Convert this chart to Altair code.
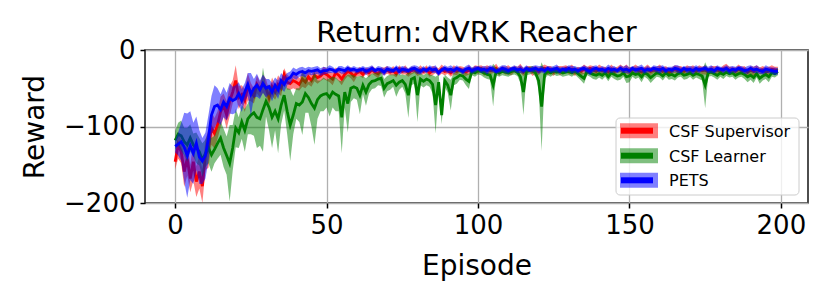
import altair as alt
import pandas as pd

episodes = list(range(200))
series_names = ["CSF Supervisor", "CSF Learner", "PETS"]
series_colors = ["#ff0000", "#008000", "#0000ff"]
chart_title = "Return: dVRK Reacher"

sup_mean = [
    -146, -124, -133, -159, -142, -168, -146, -172, -159, -178,
    -137, -129, -102, -109, -98, -81, -72, -85, -67, -55,
    -40, -62, -58, -66, -48, -55, -60, -45, -52, -44,
    -50, -62, -48, -55, -45, -50, -32, -42, -44, -40,
    -42, -45, -38, -42, -35, -40, -33, -36, -34, -30,
    -32, -35, -38, -30, -33, -38, -32, -28, -30, -34,
    -30, -28, -32, -27, -30, -26, -29, -31, -27, -28,
    -26, -29, -27, -31, -25, -28, -26, -30, -27, -26,
    -29, -26, -28, -25, -30, -27, -26, -29, -25, -28,
    -27, -30, -26, -28, -25, -27, -29, -26, -28, -25,
    -26, -24, -28, -25, -27, -26, -24, -29, -25, -27,
    -26, -28, -25, -27, -24, -29, -26, -25, -28, -26,
    -28, -25, -24, -27, -26, -29, -25, -27, -26, -24,
    -27, -25, -29, -26, -28, -25, -27, -24, -26, -28,
    -25, -27, -26, -29, -25, -28, -26, -24, -27, -25,
    -28, -26, -25, -27, -29, -26, -25, -28, -26, -27,
    -25, -28, -26, -30, -27, -25, -27, -26, -28, -25,
    -27, -26, -28, -25, -27, -26, -29, -25, -27, -26,
    -28, -25, -24, -27, -26, -28, -25, -27, -26, -29,
    -26, -28, -25, -27, -26, -29, -27, -25, -26, -27,
]
sup_hw = [
    10, 18, 15, 20, 22, 18, 25, 20, 22, 22,
    20, 25, 22, 20, 18, 20, 15, 18, 20, 15,
    20, 15, 12, 15, 18, 12, 10, 12, 10, 12,
    12, 10, 12, 10, 12, 10, 8, 10, 8, 10,
    10, 8, 10, 8, 10, 8, 8, 8, 7, 8,
    8, 7, 8, 7, 8, 8, 7, 6, 7, 8,
    5, 6, 5, 4, 6, 5, 5, 6, 4, 5,
    5, 4, 6, 5, 5, 4, 6, 5, 5, 4,
    5, 6, 4, 5, 5, 6, 4, 5, 6, 5,
    4, 5, 6, 5, 4, 5, 5, 6, 4, 5,
    5, 4, 6, 5, 5, 4, 6, 5, 4, 5,
    6, 5, 4, 5, 6, 5, 5, 4, 6, 5,
    5, 4, 5, 6, 5, 5, 4, 6, 5, 4,
    5, 6, 5, 4, 5, 6, 5, 4, 5, 5,
    6, 5, 4, 5, 6, 5, 4, 5, 5, 6,
    5, 4, 6, 5, 5, 4, 6, 5, 4, 5,
    6, 5, 5, 6, 4, 5, 6, 5, 4, 5,
    5, 6, 4, 5, 5, 6, 5, 4, 6, 5,
    4, 5, 6, 5, 4, 5, 6, 5, 5, 4,
    5, 6, 5, 4, 5, 6, 5, 5, 4, 5,
]

lrn_mean = [
    -118, -110, -112, -120, -124, -115, -124, -128, -133, -144,
    -135, -128, -137, -130, -122, -115, -128, -138, -148, -128,
    -102, -108, -94, -105, -90, -85, -82, -88, -90, -78,
    -67, -75, -88, -80, -90, -72, -59, -80, -98, -85,
    -70, -72, -68, -57, -62, -70, -76, -65, -60, -58,
    -57, -62, -55, -58, -60, -88, -55, -70, -50, -48,
    -50, -59, -46, -55, -45, -41, -40, -38, -37, -50,
    -44, -42, -40, -46, -42, -40, -45, -59, -38, -36,
    -59, -38, -41, -38, -40, -45, -72, -42, -85, -40,
    -46, -59, -38, -36, -33, -34, -38, -41, -28, -30,
    -27, -28, -30, -32, -33, -46, -28, -30, -28, -29,
    -30, -28, -27, -29, -35, -55, -28, -27, -26, -30,
    -40, -74, -32, -28, -30, -27, -29, -28, -30, -29,
    -28, -30, -27, -31, -34, -37, -28, -30, -32, -33,
    -31, -33, -30, -35, -30, -32, -34, -33, -30, -35,
    -34, -30, -32, -31, -35, -30, -32, -36, -33, -30,
    -31, -34, -30, -33, -32, -34, -31, -30, -33, -32,
    -30, -33, -31, -32, -34, -46, -30, -29, -31, -33,
    -30, -32, -29, -31, -30, -33, -31, -30, -32, -35,
    -33, -36, -31, -37, -34, -32, -35, -30, -31, -28,
]
lrn_hw = [
    12, 15, 20, 18, 22, 18, 15, 20, 18, 22,
    18, 20, 22, 18, 20, 22, 25, 25, 50, 30,
    25, 20, 22, 28, 20, 25, 30, 40, 35, 55,
    20, 30, 40, 25, 45, 25, 20, 30, 47, 25,
    20, 22, 43, 25, 20, 30, 48, 25, 20, 22,
    18, 25, 20, 22, 20, 47, 20, 38, 18, 15,
    15, 25, 12, 18, 12, 10, 10, 8, 10, 12,
    10, 10, 8, 15, 10, 8, 12, 30, 8, 8,
    35, 8, 8, 8, 8, 12, 37, 10, 12, 8,
    10, 20, 8, 8, 6, 6, 8, 10, 5, 5,
    5, 5, 6, 6, 6, 28, 5, 5, 5, 5,
    5, 5, 5, 5, 8, 30, 5, 5, 5, 5,
    10, 58, 6, 5, 5, 5, 5, 5, 5, 5,
    5, 5, 5, 5, 6, 7, 5, 5, 6, 6,
    5, 6, 5, 6, 5, 6, 6, 6, 5, 8,
    8, 5, 6, 5, 7, 5, 6, 7, 6, 5,
    5, 6, 5, 6, 6, 6, 5, 5, 6, 6,
    5, 6, 5, 6, 6, 30, 5, 5, 5, 6,
    5, 6, 5, 5, 5, 6, 5, 5, 6, 7,
    6, 7, 5, 7, 6, 6, 7, 5, 5, 5,
]

pets_mean = [
    -126, -123, -120, -127, -138, -125, -135, -122, -140, -145,
    -138, -115, -85, -74, -72, -78, -68, -74, -63, -66,
    -64, -57, -66, -55, -45, -58, -50, -46, -52, -44,
    -50, -48, -55, -46, -52, -40, -45, -38, -36, -30,
    -32, -29, -28, -30, -27, -28, -27, -26, -29, -27,
    -27, -25, -26, -28, -25, -26, -27, -24, -26, -25,
    -27, -26, -25, -28, -26, -24, -27, -25, -26, -29,
    -25, -26, -27, -24, -28, -25, -26, -27, -25, -24,
    -26, -28, -25, -27, -24, -26, -25, -30, -26, -24,
    -26, -25, -27, -24, -26, -28, -25, -24, -27, -25,
    -24, -26, -25, -27, -24, -25, -28, -26, -24, -25,
    -27, -25, -24, -26, -25, -27, -24, -26, -25, -24,
    -26, -25, -27, -24, -26, -25, -24, -27, -25, -26,
    -24, -26, -25, -27, -25, -24, -26, -28, -25, -24,
    -26, -25, -27, -24, -26, -25, -27, -24, -26, -25,
    -27, -24, -26, -25, -24, -27, -25, -26, -24, -25,
    -26, -24, -27, -25, -26, -24, -25, -27, -24, -26,
    -25, -27, -24, -26, -25, -24, -26, -25, -27, -24,
    -25, -26, -24, -27, -25, -26, -24, -25, -27, -26,
    -24, -26, -25, -27, -28, -25, -26, -27, -28, -28,
]
pets_hw = [
    8, 15, 25, 45, 55, 45, 40, 35, 35, 30,
    30, 30, 25, 28, 22, 20, 20, 18, 20, 18,
    18, 15, 15, 12, 15, 28, 12, 15, 12, 12,
    12, 10, 12, 10, 12, 10, 10, 8, 8, 7,
    7, 6, 6, 6, 5, 5, 5, 5, 5, 5,
    4, 5, 4, 3, 4, 5, 4, 4, 3, 4,
    4, 3, 4, 5, 4, 4, 3, 4, 4, 5,
    4, 4, 3, 4, 5, 4, 4, 3, 4, 4,
    5, 4, 4, 3, 4, 4, 5, 4, 3, 4,
    4, 5, 4, 4, 3, 4, 4, 5, 4, 4,
    3, 4, 4, 5, 4, 4, 3, 4, 4, 5,
    4, 3, 4, 4, 5, 4, 4, 3, 4, 4,
    5, 4, 4, 3, 4, 4, 5, 4, 3, 4,
    4, 5, 4, 4, 3, 4, 4, 5, 4, 4,
    3, 4, 4, 5, 4, 4, 3, 4, 4, 5,
    4, 3, 4, 4, 5, 4, 4, 3, 4, 4,
    5, 4, 4, 3, 4, 4, 5, 4, 3, 4,
    4, 5, 4, 4, 3, 4, 4, 5, 4, 4,
    3, 4, 4, 5, 4, 4, 3, 4, 4, 5,
    4, 4, 5, 4, 4, 5, 4, 4, 5, 4,
]

x_ticks = [0, 50, 100, 150, 200]
y_ticks = [-200, -100, 0]

means = [sup_mean, lrn_mean, pets_mean]
hws = [sup_hw, lrn_hw, pets_hw]

rows = []
for name, m, h in zip(series_names, means, hws):
    for ep, mv, hv in zip(episodes, m, h):
        rows.append({"episode": ep, "series": name, "mean": mv,
                     "lo": mv - hv, "hi": mv + hv})
df = pd.DataFrame(rows)

FONT = "DejaVu Sans"
xscale = alt.Scale(domain=[-9.95, 208.95], nice=False, zero=False)
yscale = alt.Scale(domain=[-200, 0], nice=False, zero=False)


def xenc():
    return alt.X("episode:Q", scale=xscale,
                 axis=alt.Axis(values=x_ticks, title="Episode", labelPadding=4,
                               titleX=331.5, titleY=63, titleAlign="center",
                               titleBaseline="middle"))


def yenc(field):
    return alt.Y(field, scale=yscale,
                 axis=alt.Axis(values=y_ticks, title="Reward", labelPadding=5,
                               titleAngle=270, titleX=-110, titleY=76.5,
                               titleAlign="center", titleBaseline="middle"))


base = alt.Chart(df)
layers = []
for name, color in zip(series_names, series_colors):
    sub = base.transform_filter(alt.datum.series == name)
    layers.append(sub.mark_area(color=color, opacity=0.5, clip=True).encode(
        x=xenc(), y=yenc("lo:Q"), y2="hi:Q"))
    layers.append(sub.mark_line(color=color, strokeWidth=2.8, clip=True).encode(
        x=xenc(), y=yenc("mean:Q")))

# chart title as a text mark above the plot area
layers.append(alt.Chart(alt.Data(values=[{"t": chart_title}])).mark_text(
    align="center", baseline="alphabetic", font=FONT, fontSize=29,
    color="black").encode(x=alt.value(331.5), y=alt.value(-8), text="t:N"))

# legend (drawn in pixel space, inside the plot)
legend_box = alt.Chart(alt.Data(values=[{"k": 1}])).mark_rect(
    fill="white", fillOpacity=0.8, stroke="#cccccc", strokeWidth=1,
    cornerRadius=4).encode(x=alt.value(471), x2=alt.value(654),
                           y=alt.value(68), y2=alt.value(145))
layers.append(legend_box)
row_y = [80.7, 105.7, 130.3]
for name, color, ry in zip(series_names, series_colors, row_y):
    d = alt.Data(values=[{"label": name}])
    layers.append(alt.Chart(d).mark_rect(color=color, opacity=0.5).encode(
        x=alt.value(475), x2=alt.value(513), y=alt.value(ry - 7.5), y2=alt.value(ry + 7.5)))
    layers.append(alt.Chart(d).mark_rect(color=color).encode(
        x=alt.value(476), x2=alt.value(508), y=alt.value(ry - 3), y2=alt.value(ry + 3)))
    layers.append(alt.Chart(d).mark_text(
        align="left", baseline="middle", font=FONT, fontSize=16, color="black").encode(
        x=alt.value(524), y=alt.value(ry + 1), text="label:N"))

chart = alt.layer(*layers).properties(
    width=663, height=153,
    autosize=alt.AutoSizeParams(type="none"),
    padding={"left": 137, "top": 42, "right": 14, "bottom": 86},
).configure_view(stroke="#222222", strokeWidth=1.6).configure_axis(
    grid=True, gridColor="#b0b0b0", gridWidth=1.3, domain=False,
    tickColor="black", tickSize=5, tickWidth=1.5,
    labelFont=FONT, labelFontSize=26, labelColor="black",
    titleFont=FONT, titleFontSize=28, titleFontWeight="normal", titleColor="black",
)

chart.save("out.html", embed_options={"renderer": "svg", "actions": False})
